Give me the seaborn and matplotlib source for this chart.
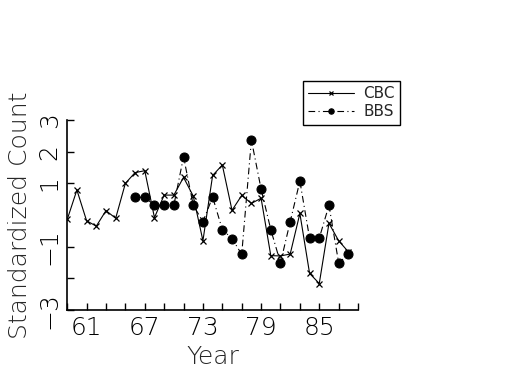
import matplotlib
matplotlib.use("Agg")
import matplotlib.pyplot as plt
import seaborn as sns

cbc_years = list(range(59, 89))
cbc_values = [-0.14, 0.79, -0.18, -0.35, 0.14, -0.10, 1.00, 1.34, 1.40, -0.08,
              0.63, 0.63, 1.19, 0.60, -0.81, 1.25, 1.58, 0.15, 0.62, 0.37,
              0.53, -1.28, -1.29, -1.23, 0.05, -1.84, -2.16, -0.26, -0.81, -1.16]

bbs_years = list(range(66, 89))
bbs_values = [0.56, 0.56, 0.31, 0.31, 0.31, 1.84, 0.31, -0.21, 0.57, -0.46,
              -0.74, -1.24, 2.37, 0.82, -0.46, -1.51, -0.21, 1.07, -0.73, -0.73,
              0.31, -1.51, -1.24]

xtick_pos = list(range(59, 90, 2))
xtick_labels = ["" if y not in (61, 67, 73, 79, 85) else str(y) for y in xtick_pos]
ytick_pos = [3, 2, 1, -1, -2, -3]
ytick_labels = ["3", "2", "1", "\u22121", "", "\u22123"]

sns.set_style("ticks")
plt.rcParams["font.family"] = ["DejaVu Sans"]

fig = plt.figure(figsize=(5.25, 3.75), dpi=100)
ax = fig.add_axes([0.128, 0.173, 0.554, 0.507])

sns.lineplot(x=cbc_years, y=cbc_values, ax=ax, color="black", linewidth=0.8,
             marker="x", markersize=5, markeredgewidth=0.9,
             markeredgecolor="black", label="CBC")
sns.lineplot(x=bbs_years, y=bbs_values, ax=ax, color="black", linewidth=0.8,
             linestyle=(0, (6, 3, 1, 3)), marker="o", markersize=6.5,
             markeredgecolor="black", label="BBS")

ax.set_xlim(59, 89)
ax.set_ylim(-3, 3)
ax.set_xticks(xtick_pos)
ax.set_xticklabels(xtick_labels, fontsize=18, fontweight="light")
ax.set_yticks(ytick_pos)
ax.set_yticklabels(ytick_labels, fontsize=18, rotation=90, va="center",
                   fontweight="light")
ax.tick_params(direction="in", length=5, width=1, colors="black", pad=4)
ax.set_xlabel("Year", fontsize=18, fontweight="light")
ax.set_ylabel("Standardized Count", fontsize=18, fontweight="light", labelpad=4)

for s in ["top", "right"]:
    ax.spines[s].set_visible(False)
for s in ["left", "bottom"]:
    ax.spines[s].set_linewidth(1.2)
    ax.spines[s].set_color("black")

ax.legend(loc="upper left", bbox_to_anchor=(0.81, 1.205), fontsize=11,
          frameon=True, fancybox=False, edgecolor="black", framealpha=1,
          handlelength=3.0, borderpad=0.35, labelspacing=0.2,
          handletextpad=0.6, markerscale=0.6, borderaxespad=0)

fig.savefig("out.png", dpi=100)
